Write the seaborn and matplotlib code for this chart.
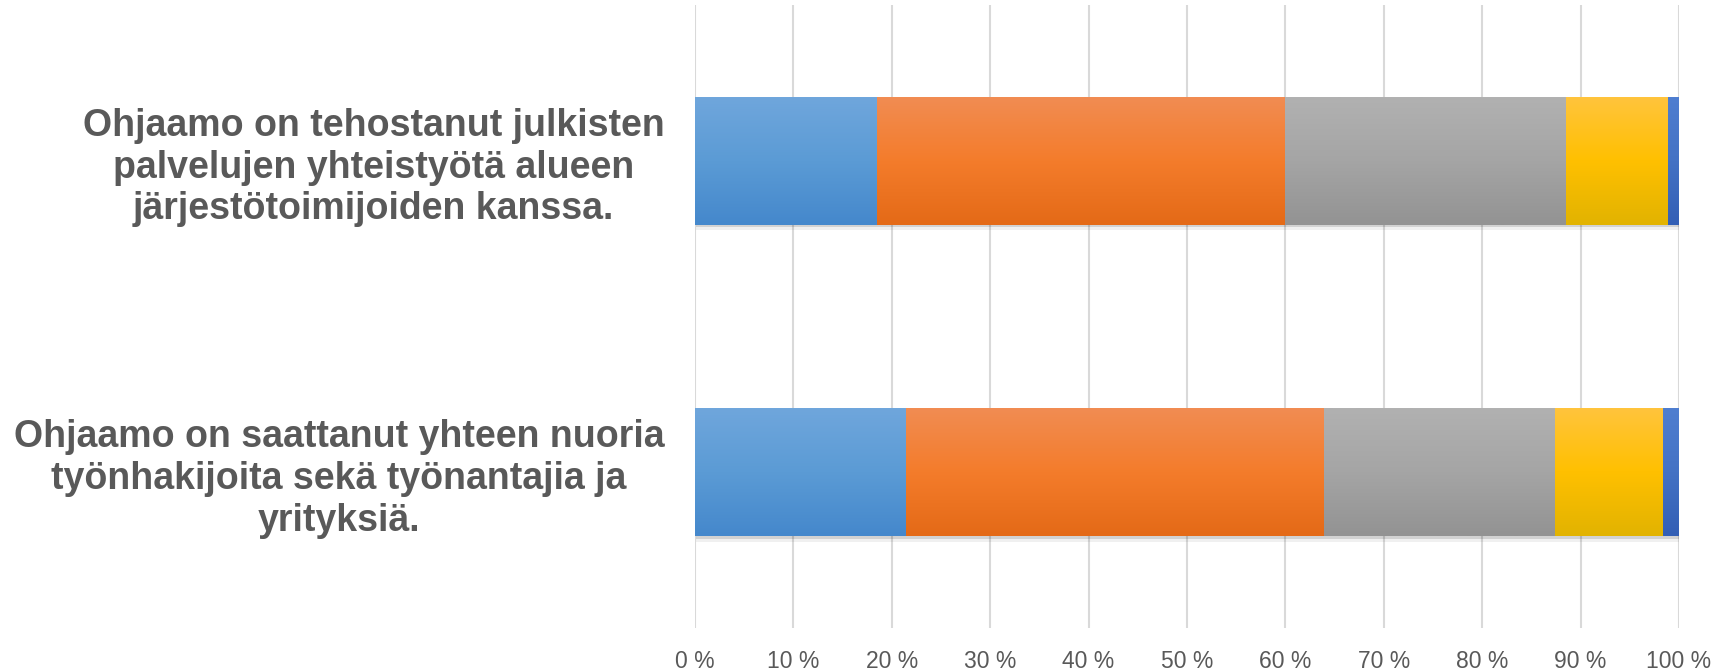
import numpy as np
import pandas as pd
import matplotlib
matplotlib.use("Agg")
import matplotlib.pyplot as plt
import matplotlib.patheffects as pe
from matplotlib.colors import to_rgb
import seaborn as sns

# ---- data ----
categories = [
    "Ohjaamo on tehostanut julkisten\npalvelujen yhteistyötä alueen\njärjestötoimijoiden kanssa.",
    "Ohjaamo on saattanut yhteen nuoria\ntyönhakijoita sekä työnantajia ja\nyrityksiä.",
]
series_names = ["Sarja 1", "Sarja 2", "Sarja 3", "Sarja 4", "Sarja 5"]
s1 = [18.4, 21.4]
s2 = [41.5, 42.5]
s3 = [28.6, 23.5]
s4 = [10.3, 10.9]
s5 = [1.2, 1.7]
tick_values = [0, 10, 20, 30, 40, 50, 60, 70, 80, 90, 100]
tick_labels = ["0 %", "10 %", "20 %", "30 %", "40 %", "50 %", "60 %", "70 %", "80 %", "90 %", "100 %"]

# gradient colours (top, middle, bottom)
grads = [
    ("#6FA6DC", "#5B9BD5", "#4588CC"),
    ("#F18C52", "#F47C2B", "#E46A17"),
    ("#B1B1B1", "#A5A5A5", "#939393"),
    ("#FFC43C", "#FFC000", "#E2B300"),
    ("#4F7ED0", "#4472C4", "#335FB5"),
]

sns.set_style("white")
plt.rcParams["font.family"] = ["Liberation Sans", "DejaVu Sans"]

fig = plt.figure(figsize=(17.28, 6.70), dpi=100)
ax = fig.add_axes([0.4022, 0.0627, 0.9716 - 0.4022, 0.9925 - 0.0627])

series = [s1, s2, s3, s4, s5]
cum = np.cumsum(np.array(series), axis=0)

layers = []
for k in range(len(series) - 1, -1, -1):
    df = pd.DataFrame({"category": categories, "value": cum[k]})
    n_before = len(ax.patches)
    sns.barplot(data=df, x="value", y="category", orient="h",
                color=grads[k][1], width=0.41, ax=ax, zorder=3 + (4 - k) * 0.1,
                edgecolor="none", linewidth=0)
    layers.append((k, ax.patches[n_before:]))

# gradient fills clipped to each bar, soft shadow under the full bar
for k, patches in layers:
    cols = np.array([to_rgb(c) for c in grads[k]])
    t = np.linspace(0, 1, 64)
    top = np.where(t[:, None] < 0.5,
                   cols[0] + (cols[1] - cols[0]) * (t[:, None] / 0.5),
                   cols[1] + (cols[2] - cols[1]) * ((t[:, None] - 0.5) / 0.5))
    img = top[:, None, :]
    for p in patches:
        x0, y0 = p.get_x(), p.get_y()
        w, h = p.get_width(), p.get_height()
        z = p.get_zorder()
        if k == len(series) - 1:
            p.set_path_effects([pe.SimplePatchShadow(offset=(0.5, -2), shadow_rgbFace="#000000", alpha=0.12),
                                pe.SimplePatchShadow(offset=(0.5, -4), shadow_rgbFace="#000000", alpha=0.06),
                                pe.Normal()])
        im = ax.imshow(img, extent=(x0, x0 + w, y0 + h, y0), aspect="auto",
                       zorder=z + 0.01, interpolation="bilinear")
        im.set_clip_path(p)

ax.set_xlim(0, 100)
ax.set_ylim(1.5, -0.5)
ax.set_xticks(tick_values)
ax.set_xticklabels(tick_labels, fontsize=16.5, color="#595959")
ax.set_yticks([0, 1])
ax.set_yticklabels(categories, fontsize=27, fontweight="bold", color="#595959",
                   linespacing=1.2, multialignment="center")
ax.tick_params(axis="x", length=0, pad=16)
ax.tick_params(axis="y", length=0, pad=22)
ax.set_xlabel("")
ax.set_ylabel("")
ax.grid(axis="x", color="#D9D9D9", linewidth=1.5, zorder=0)
ax.grid(axis="y", visible=False)
ax.set_axisbelow(True)
for s in ax.spines.values():
    s.set_visible(False)

fig.savefig("out.png", dpi=100)
